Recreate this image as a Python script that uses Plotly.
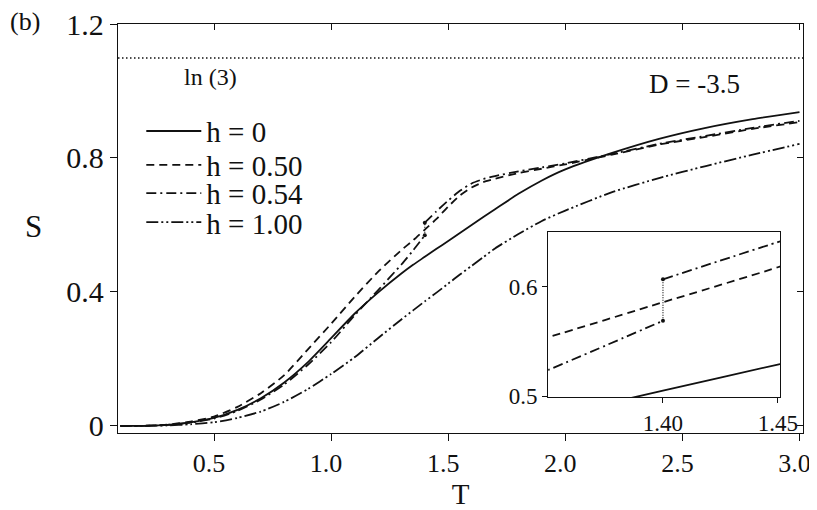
import numpy as np
import plotly.graph_objects as go

# temperature grid
T = [0.1, 0.2, 0.3, 0.4, 0.5, 0.6, 0.7, 0.8, 0.9, 1.0, 1.1, 1.2, 1.3, 1.35, 1.4, 1.45,
     1.5, 1.55, 1.6, 1.65, 1.7, 1.8, 1.9, 2.0, 2.2, 2.4, 2.6, 2.8, 3.0]

S_h0 = [0.000, 0.0005, 0.003, 0.011, 0.024, 0.048, 0.083, 0.130, 0.190, 0.262, 0.335,
        0.398, 0.455, 0.481, 0.505, 0.529, 0.552, 0.576, 0.600, 0.624, 0.647, 0.693,
        0.733, 0.766, 0.815, 0.857, 0.890, 0.916, 0.937]

S_h050 = [0.000, 0.0006, 0.004, 0.013, 0.028, 0.057, 0.098, 0.152, 0.228, 0.305, 0.385,
          0.460, 0.525, 0.554, 0.586, 0.618, 0.655, 0.688, 0.712, 0.728, 0.738, 0.755,
          0.768, 0.781, 0.810, 0.840, 0.863, 0.887, 0.907]

# h = 0.54 has a jump at T = 1.40, so two branches
T_lo = [0.1, 0.2, 0.3, 0.4, 0.5, 0.6, 0.7, 0.8, 0.9, 1.0, 1.1, 1.2, 1.3, 1.35, 1.4]
S_h054_lo = [0.000, 0.0005, 0.003, 0.010, 0.022, 0.045, 0.079, 0.124, 0.182, 0.250,
             0.330, 0.405, 0.482, 0.524, 0.569]
T_hi = [1.4, 1.45, 1.5, 1.55, 1.6, 1.65, 1.7, 1.8, 1.9, 2.0, 2.2, 2.4, 2.6, 2.8, 3.0]
S_h054_hi = [0.607, 0.641, 0.673, 0.702, 0.724, 0.737, 0.746, 0.760, 0.772, 0.784,
             0.812, 0.842, 0.866, 0.890, 0.911]

S_h100 = [0.000, 0.0002, 0.0015, 0.005, 0.011, 0.024, 0.043, 0.072, 0.110, 0.155, 0.205,
          0.262, 0.318, 0.345, 0.372, 0.398, 0.425, 0.452, 0.478, 0.504, 0.530, 0.573,
          0.612, 0.643, 0.698, 0.740, 0.776, 0.810, 0.842]

LN3 = np.log(3)

XR = [0.09, 3.015]
YR = [-0.021, 1.2]
x_ticks = [0.5, 1.0, 1.5, 2.0, 2.5, 3.0]
y_ticks = [0, 0.4, 0.8, 1.2]

SERIF = "Liberation Serif, Times New Roman, serif"
INK = "#111111"

dash_d = "8px,5px"
dash_dd = "10px,4px,2px,4px"
dash_ddd = "12px,3px,2px,3px,2px,3px"

fig = go.Figure()

for xa, ya, show in [("x", "y", True), ("x2", "y2", False)]:
    fig.add_trace(go.Scatter(x=T, y=S_h0, mode="lines", name="h = 0", legend="legend",
                             line=dict(color=INK, width=1.8, shape="spline", smoothing=0.6),
                             xaxis=xa, yaxis=ya, showlegend=show))
    fig.add_trace(go.Scatter(x=T, y=S_h050, mode="lines", name="h = 0.50", legend="legend2",
                             line=dict(color=INK, width=1.8, dash=dash_d, shape="spline", smoothing=0.6),
                             xaxis=xa, yaxis=ya, showlegend=show))
    fig.add_trace(go.Scatter(x=T_lo, y=S_h054_lo, mode="lines", name="h = 0.54", legend="legend3",
                             line=dict(color=INK, width=1.8, dash=dash_dd, shape="spline", smoothing=0.6),
                             xaxis=xa, yaxis=ya, showlegend=show))
    fig.add_trace(go.Scatter(x=T_hi, y=S_h054_hi, mode="lines", name="h = 0.54",
                             line=dict(color=INK, width=1.8, dash=dash_dd, shape="spline", smoothing=0.6),
                             xaxis=xa, yaxis=ya, showlegend=False))
    # the jump of h = 0.54
    fig.add_trace(go.Scatter(x=[T_lo[-1], T_hi[0]], y=[S_h054_lo[-1], S_h054_hi[0]],
                             mode="lines+markers",
                             line=dict(color=INK, width=1.2, dash="1px,1.5px"),
                             marker=dict(color=INK, size=4),
                             xaxis=xa, yaxis=ya, showlegend=False))
    fig.add_trace(go.Scatter(x=T, y=S_h100, mode="lines", name="h = 1.00", legend="legend4",
                             line=dict(color=INK, width=1.8, dash=dash_ddd, shape="spline", smoothing=0.6),
                             xaxis=xa, yaxis=ya, showlegend=show))

# ln(3) limit, drawn on the overlay axes so they carry the inward mirror ticks
fig.add_trace(go.Scatter(x=XR, y=[LN3, LN3], mode="lines", xaxis="x3", yaxis="y3",
                         line=dict(color=INK, width=1.5, dash="1.5px,2.5px"),
                         showlegend=False, hoverinfo="skip"))

axis_common = dict(showline=True, linecolor=INK, linewidth=1.3, showgrid=False,
                   zeroline=False, ticks="outside", tickcolor=INK, tickwidth=1.2,
                   automargin=False, ticklabeloverflow="allow",
                   tickfont=dict(family=SERIF, size=30, color=INK))
overlay_common = dict(ticks="inside", ticklen=6, tickcolor=INK, tickwidth=1.2,
                      showticklabels=False, showgrid=False, zeroline=False,
                      showline=False, automargin=False)
inset_font = dict(family=SERIF, size=23, color=INK)
leg_common = dict(xanchor="left", yanchor="middle", x=0.034, itemwidth=55,
                  bgcolor="rgba(0,0,0,0)", font=dict(family=SERIF, size=29, color=INK))

# the page puts the figure 8px in from the top-left corner, margins allow for it
fig.update_layout(
    width=817, height=502,
    margin=dict(l=110, r=22, t=16, b=77),
    plot_bgcolor="white", paper_bgcolor="white",
    font=dict(family=SERIF, color=INK),
    xaxis=dict(axis_common, range=XR, tickvals=x_ticks, tickformat=".1f", ticklen=7,
               mirror=True, ticklabelshift=-5,
               tickfont=dict(family=SERIF, size=26, color=INK),
               title=dict(text="T", font=dict(family=SERIF, size=29, color=INK), standoff=12)),
    yaxis=dict(axis_common, range=YR, tickvals=y_ticks, ticklen=7, mirror=True),
    xaxis3=dict(overlay_common, overlaying="x", side="top", anchor="y3", range=XR,
                tickvals=x_ticks),
    yaxis3=dict(overlay_common, overlaying="y", side="right", anchor="x3", range=YR,
                tickvals=y_ticks),
    xaxis2=dict(axis_common, domain=[0.628, 0.9665], anchor="y2", range=[1.35, 1.451],
                tickvals=[1.40, 1.45], tickformat=".2f", ticklen=5, mirror=True,
                tickfont=inset_font),
    yaxis2=dict(axis_common, domain=[0.0873, 0.4907], anchor="x2", range=[0.499, 0.65],
                tickvals=[0.5, 0.6], ticklen=5, mirror=True, tickfont=inset_font),
    legend=dict(leg_common, y=0.738),
    legend2=dict(leg_common, y=0.655),
    legend3=dict(leg_common, y=0.586),
    legend4=dict(leg_common, y=0.515),
    annotations=[
        dict(text="(b)", xref="paper", yref="paper", x=-0.136, y=1.0049, showarrow=False,
             xanchor="center", yanchor="middle", font=dict(family=SERIF, size=26, color=INK)),
        dict(text="S", xref="paper", yref="paper", x=-0.124, y=0.505, showarrow=False,
             xanchor="center", yanchor="middle", font=dict(family=SERIF, size=31, color=INK)),
        dict(text="ln (3)", xref="x", yref="y", x=0.487, y=1.041, showarrow=False,
             xanchor="center", yanchor="middle", font=dict(family=SERIF, size=24, color=INK)),
        dict(text="D = -3.5", xref="x", yref="y", x=2.55, y=1.02, showarrow=False,
             xanchor="center", yanchor="middle", font=dict(family=SERIF, size=27, color=INK)),
    ],
)

fig.write_html("out.html")
